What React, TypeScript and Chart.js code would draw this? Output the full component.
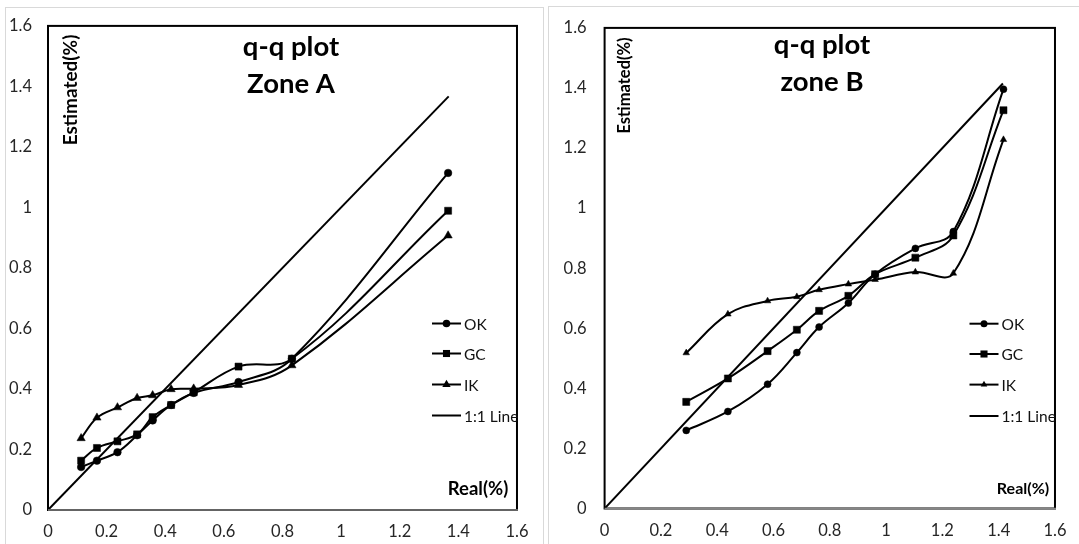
import React, { useEffect, useRef } from 'react';
import { Chart, registerables } from 'chart.js';

Chart.register(...registerables);

// ---------- Data ----------
const tickLabels = ['0', '0.2', '0.4', '0.6', '0.8', '1', '1.2', '1.4', '1.6'];
const seriesNames = ['OK', 'GC', 'IK', '1:1 Line'];

const zoneAReal = [0.113, 0.167, 0.237, 0.304, 0.357, 0.42, 0.497, 0.65, 0.832, 1.365];
const zoneAOK = [0.142, 0.163, 0.191, 0.247, 0.296, 0.347, 0.387, 0.423, 0.5, 1.114];
const zoneAGC = [0.163, 0.205, 0.227, 0.25, 0.307, 0.347, 0.389, 0.474, 0.5, 0.989];
const zoneAIK = [0.237, 0.305, 0.339, 0.37, 0.379, 0.399, 0.401, 0.413, 0.478, 0.907];
const zoneALine = [0, 1.367];

const zoneBReal = [0.29, 0.438, 0.579, 0.683, 0.762, 0.866, 0.961, 1.104, 1.239, 1.417];
const zoneBOK = [0.26, 0.323, 0.414, 0.519, 0.604, 0.684, 0.78, 0.866, 0.922, 1.396];
const zoneBGC = [0.355, 0.433, 0.524, 0.595, 0.658, 0.708, 0.78, 0.835, 0.909, 1.326];
const zoneBIK = [0.518, 0.647, 0.691, 0.705, 0.728, 0.747, 0.762, 0.787, 0.783, 1.228];
const zoneBLine = [0, 1.415];

const FONT = 'Lato, "Open Sans", "DejaVu Sans", sans-serif';
const H = 544;

type Panel = {
  canvasLeft: number;
  canvasWidth: number;
  area: { left: number; right: number; top: number; bottom: number };
  title: string[];
  titleX: number;
  titleBaselines: number[];
  titleFont: number;
  yTitle: { x: number; y: number; size: number };
  xTitle: { x: number; y: number; size: number };
  legend: { x1: number; x2: number; textX: number; rows: number[]; size: number };
  markers: { circle: number; rect: number; triangle: number };
  yTickPad: number;
  xTickPad: number;
  real: number[];
  ok: number[];
  gc: number[];
  ik: number[];
  line: number[];
};

const panelA: Panel = {
  canvasLeft: 0,
  canvasWidth: 540,
  area: { left: 48, right: 525, top: 22, bottom: 510 },
  title: ['q-q plot', 'Zone A'],
  titleX: 291,
  titleBaselines: [56, 93],
  titleFont: 27.5,
  yTitle: { x: 71, y: 90, size: 19 },
  xTitle: { x: 478, y: 489, size: 18.5 },
  legend: { x1: 432, x2: 461, textX: 464, rows: [323.5, 353.5, 384.5, 415.5], size: 15.5 },
  markers: { circle: 3.8, rect: 5, triangle: 4.8 },
  yTickPad: 16,
  xTickPad: 11.5,
  real: zoneAReal,
  ok: zoneAOK,
  gc: zoneAGC,
  ik: zoneAIK,
  line: zoneALine,
};

const panelB: Panel = {
  canvasLeft: 540,
  canvasWidth: 539,
  area: { left: 604.6, right: 1069, top: 26.5, bottom: 508.5 },
  title: ['q-q plot', 'zone B'],
  titleX: 822,
  titleBaselines: [54, 91],
  titleFont: 27.5,
  yTitle: { x: 625, y: 85.5, size: 16.5 },
  xTitle: { x: 1023, y: 489, size: 16 },
  legend: { x1: 969.5, x2: 998.5, textX: 1001.5, rows: [323.7, 354, 384.6, 416], size: 15.5 },
  markers: { circle: 3.5, rect: 5, triangle: 3.8 },
  yTickPad: 18,
  xTickPad: 12.5,
  real: zoneBReal,
  ok: zoneBOK,
  gc: zoneBGC,
  ik: zoneBIK,
  line: zoneBLine,
};

function drawMarker(ctx: CanvasRenderingContext2D, style: string, x: number, y: number, r: number) {
  ctx.beginPath();
  if (style === 'circle') {
    ctx.arc(x, y, r, 0, Math.PI * 2);
  } else if (style === 'rect') {
    const s = r * Math.SQRT1_2;
    ctx.rect(x - s, y - s, 2 * s, 2 * s);
  } else if (style === 'triangle') {
    ctx.moveTo(x, y - r);
    ctx.lineTo(x + r * Math.sin((2 * Math.PI) / 3), y - r * Math.cos((2 * Math.PI) / 3));
    ctx.lineTo(x + r * Math.sin((4 * Math.PI) / 3), y - r * Math.cos((4 * Math.PI) / 3));
    ctx.closePath();
  }
  ctx.fill();
}

function buildConfig(p: Panel) {
  const off = p.canvasLeft;
  const toPts = (ys: number[]) => ys.map((y, i) => ({ x: p.real[i], y }));
  const linePts = p.line.map((v) => ({ x: v, y: v }));
  const styles = ['circle', 'rect', 'triangle'];
  const radii = [p.markers.circle, p.markers.rect, p.markers.triangle];
  const seriesData = [toPts(p.ok), toPts(p.gc), toPts(p.ik)];

  const datasets: any[] = seriesData.map((d, i) => ({
    label: seriesNames[i],
    data: d,
    showLine: true,
    borderColor: '#000',
    backgroundColor: '#000',
    borderWidth: 2,
    pointStyle: styles[i],
    pointRadius: radii[i],
    pointBackgroundColor: '#000',
    pointBorderColor: '#000',
    pointBorderWidth: 0.5,
    tension: 0.38,
    fill: false,
  }));
  datasets.push({
    label: seriesNames[3],
    data: linePts,
    showLine: true,
    borderColor: '#000',
    borderWidth: 2,
    pointRadius: 0,
    tension: 0,
    fill: false,
  });

  const xAxisH = 30;
  const overlay = {
    id: 'qqOverlay',
    afterDraw(chart: any) {
      const ctx: CanvasRenderingContext2D = chart.ctx;
      const a = chart.chartArea;
      ctx.save();
      // plot frame
      ctx.strokeStyle = '#000';
      ctx.lineWidth = 2;
      ctx.strokeRect(a.left, a.top, a.right - a.left, a.bottom - a.top);
      ctx.strokeStyle = '#868686';
      ctx.lineWidth = 1.5;
      ctx.beginPath();
      ctx.moveTo(a.left, a.bottom);
      ctx.lineTo(a.right + 1, a.bottom);
      ctx.stroke();

      ctx.fillStyle = '#000';
      // title
      ctx.font = `bold ${p.titleFont}px ${FONT}`;
      ctx.textAlign = 'center';
      ctx.textBaseline = 'alphabetic';
      p.title.forEach((t, i) => ctx.fillText(t, p.titleX - off, p.titleBaselines[i]));

      // axis titles
      ctx.font = `bold ${p.xTitle.size}px ${FONT}`;
      ctx.textBaseline = 'middle';
      ctx.fillText('Real(%)', p.xTitle.x - off, p.xTitle.y);
      ctx.save();
      ctx.translate(p.yTitle.x - off, p.yTitle.y);
      ctx.rotate(-Math.PI / 2);
      ctx.font = `bold ${p.yTitle.size}px ${FONT}`;
      ctx.fillText('Estimated(%)', 0, 0);
      ctx.restore();

      // legend
      const L = p.legend;
      ctx.font = `${L.size}px ${FONT}`;
      ctx.textAlign = 'left';
      ctx.textBaseline = 'middle';
      chart.data.datasets.forEach((ds: any, i: number) => {
        const y = L.rows[i];
        ctx.strokeStyle = '#000';
        ctx.lineWidth = 2;
        ctx.beginPath();
        ctx.moveTo(L.x1 - off, y);
        ctx.lineTo(L.x2 - off, y);
        ctx.stroke();
        if (ds.pointRadius > 0) {
          drawMarker(ctx, ds.pointStyle, (L.x1 + L.x2) / 2 - off, y, ds.pointRadius);
        }
        ctx.fillStyle = '#111';
        ctx.fillText(ds.label, L.textX - off, y + 1);
        ctx.fillStyle = '#000';
      });
      ctx.restore();
    },
  };

  const tickCb = (_v: any, i: number) => tickLabels[i];

  return {
    type: 'scatter' as const,
    data: { datasets },
    options: {
      animation: false,
      responsive: false,
      maintainAspectRatio: false,
      devicePixelRatio: 1,
      layout: {
        autoPadding: false,
        padding: {
          left: 0,
          top: p.area.top,
          right: p.canvasWidth - (p.area.right - off),
          bottom: H - p.area.bottom - xAxisH,
        },
      },
      plugins: {
        legend: { display: false },
        title: { display: false },
        tooltip: { enabled: false },
      },
      scales: {
        x: {
          type: 'linear',
          min: 0,
          max: 1.6,
          grid: { display: false, drawTicks: false },
          border: { display: false },
          ticks: {
            stepSize: 0.2,
            padding: p.xTickPad,
            maxRotation: 0,
            autoSkip: false,
            color: '#262626',
            font: { family: FONT, size: 16.5 },
            callback: tickCb,
          },
          afterFit: (s: any) => {
            s.height = xAxisH;
          },
        },
        y: {
          type: 'linear',
          min: 0,
          max: 1.6,
          grid: { display: false, drawTicks: false },
          border: { display: false },
          ticks: {
            stepSize: 0.2,
            padding: p.yTickPad,
            autoSkip: false,
            color: '#262626',
            font: { family: FONT, size: 16.5 },
            callback: tickCb,
          },
          afterFit: (s: any) => {
            s.width = p.area.left - off;
          },
        },
      },
    },
    plugins: [overlay],
  };
}

function QQChart({ panel }: { panel: Panel }) {
  const ref = useRef<HTMLCanvasElement | null>(null);
  useEffect(() => {
    if (!ref.current) return;
    const chart = new Chart(ref.current, buildConfig(panel) as any);
    return () => chart.destroy();
  }, [panel]);
  return (
    <canvas
      ref={ref}
      width={panel.canvasWidth}
      height={H}
      style={{ position: 'absolute', left: panel.canvasLeft, top: 0, width: panel.canvasWidth, height: H }}
    />
  );
}

export default function App() {
  return (
    <div
      style={{
        position: 'fixed',
        left: 0,
        top: 0,
        width: 1079,
        height: 544,
        background: '#fff',
        overflow: 'hidden',
      }}
    >
      <div
        style={{
          position: 'absolute',
          left: 5,
          top: 7,
          width: 539,
          height: 600,
          boxSizing: 'border-box',
          border: '1px solid #d9d9d9',
        }}
      />
      <div
        style={{
          position: 'absolute',
          left: 548,
          top: 6,
          width: 600,
          height: 600,
          boxSizing: 'border-box',
          border: '1px solid #d9d9d9',
        }}
      />
      <QQChart panel={panelA} />
      <QQChart panel={panelB} />
    </div>
  );
}
